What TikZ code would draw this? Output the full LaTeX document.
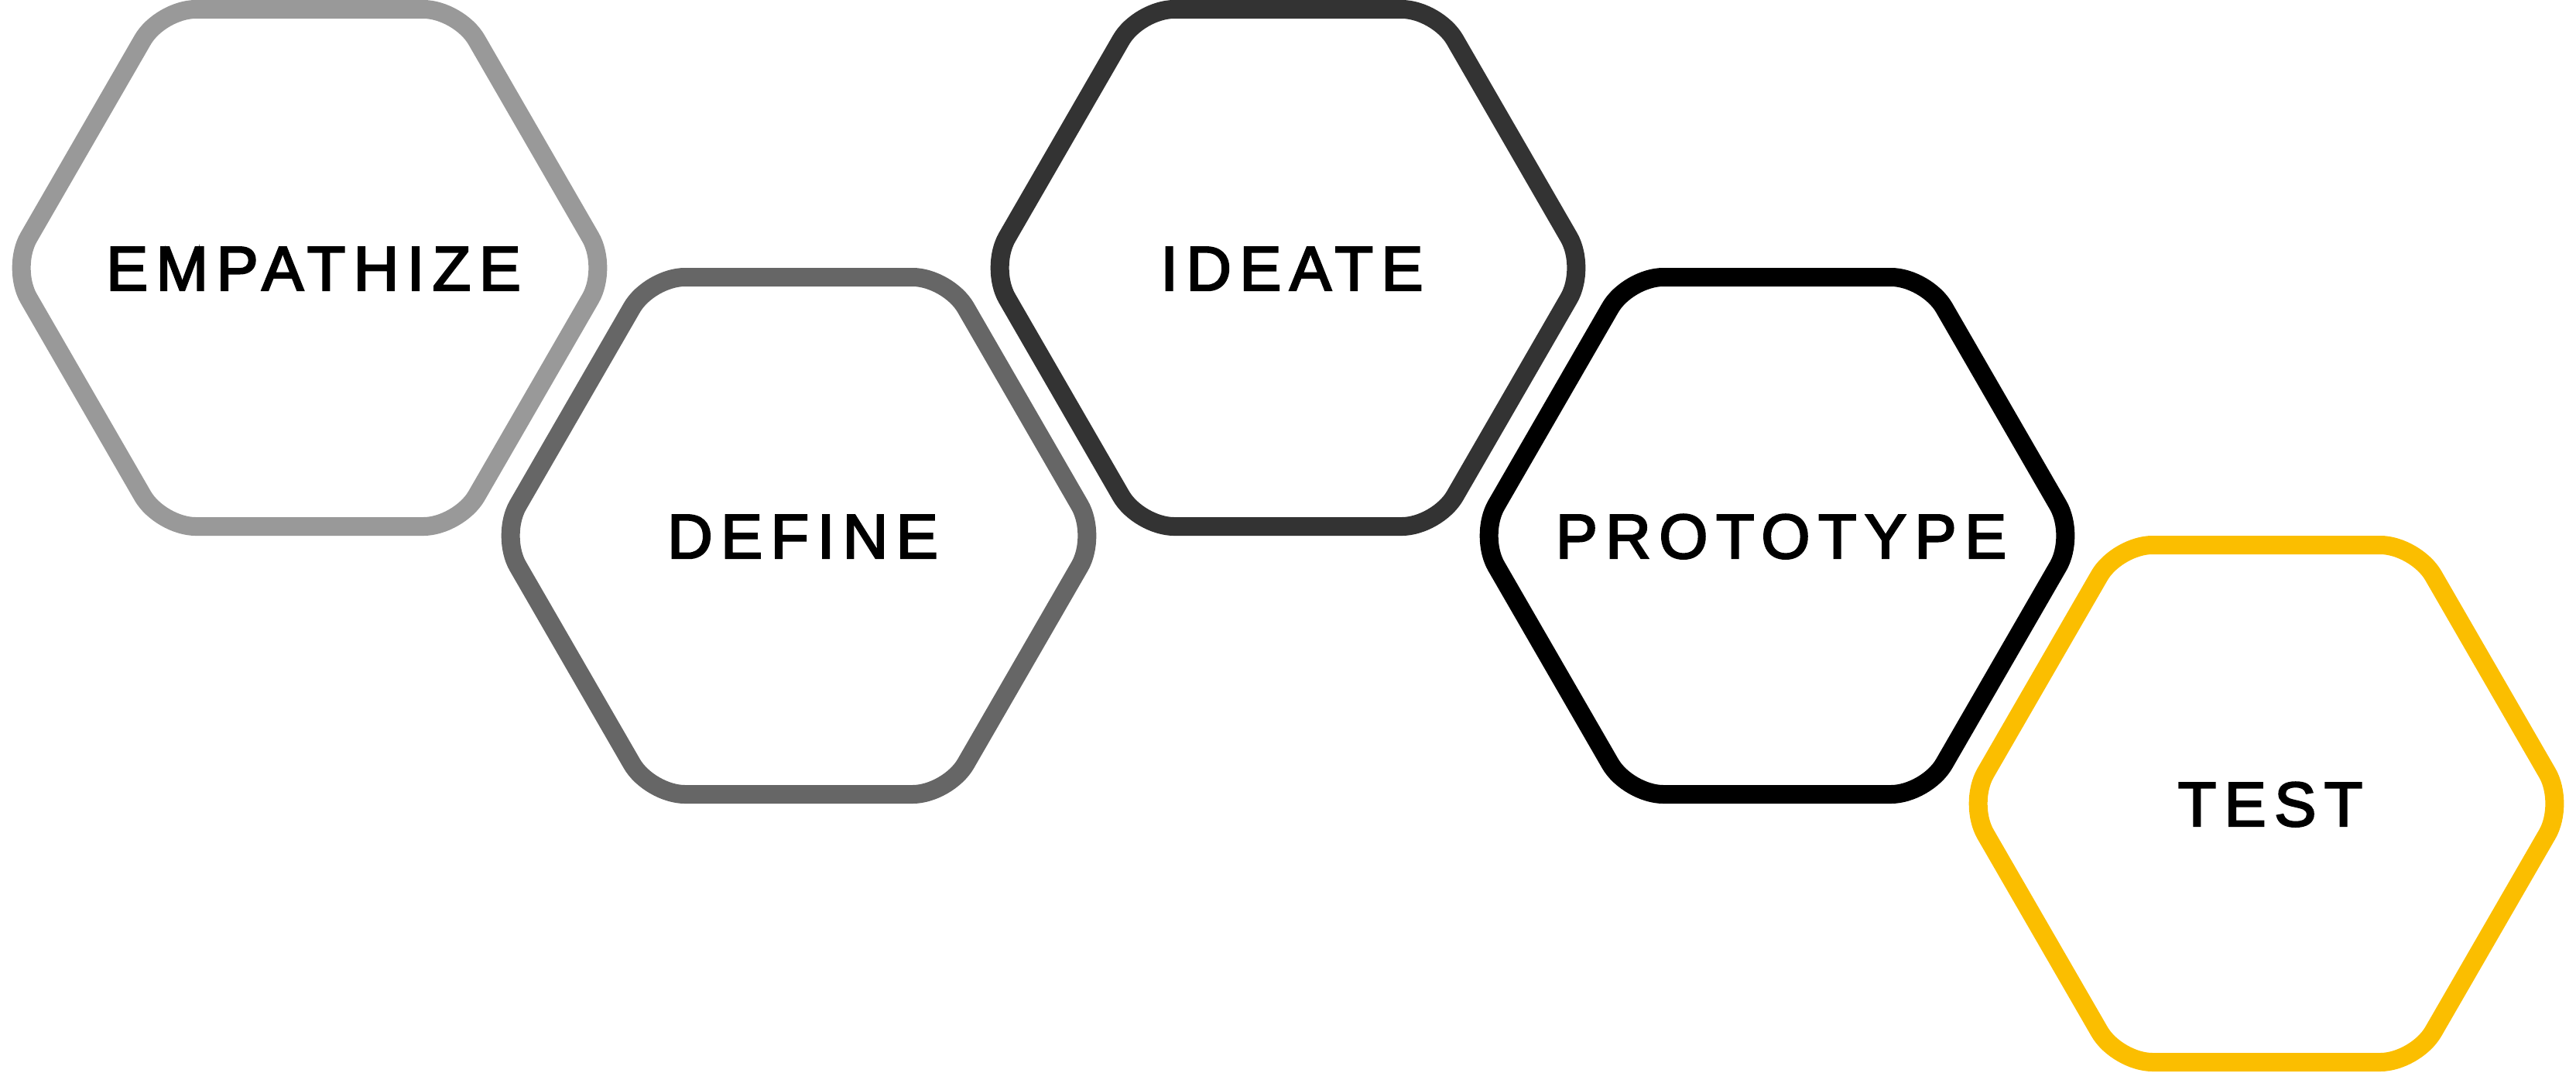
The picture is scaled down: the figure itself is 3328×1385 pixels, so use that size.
\documentclass[tikz,border=0pt]{standalone}
\usepackage{fontspec}
\setmainfont{Liberation Sans}[LetterSpace=13, FakeBold=3]
\definecolor{hexA}{HTML}{999999}
\definecolor{hexB}{HTML}{666666}
\definecolor{hexC}{HTML}{333333}
\definecolor{hexD}{HTML}{000000}
\definecolor{hexE}{HTML}{FBBE00}
\tikzset{
  hexline/.style={line width=24pt, rounded corners=45.6pt, line join=round},
  lbl/.style={font=\fontsize{81}{81}\selectfont, anchor=base, inner sep=0pt, text=black}
}
\newcommand\drawhex[3]{%
  \draw[hexline, draw=#3] (#1,#2-334) -- (#1+192.85,#2-334) -- (#1+385.7,#2)
    -- (#1+192.85,#2+334) -- (#1-192.85,#2+334) -- (#1-385.7,#2)
    -- (#1-192.85,#2-334) -- cycle;}
\begin{document}
\begin{tikzpicture}[x=1pt,y=-1pt]
\useasboundingbox (0,0) rectangle (3328,1385);
\drawhex{400}{346}{hexA}
\drawhex{1032}{692}{hexB}
\drawhex{1664}{346}{hexC}
\drawhex{2296}{692}{hexD}
\drawhex{2928}{1038}{hexE}
\node[lbl] (empathize) at (405,375) {EMPATHIZE};
\node[lbl] (define) at (1037,721) {DEFINE};
\node[lbl] (ideate) at (1669,375) {IDEATE};
\node[lbl] (prototype) at (2301,721) {PROTOTYPE};
\node[lbl] (test) at (2933,1067) {TEST};
\end{tikzpicture}
\end{document}
